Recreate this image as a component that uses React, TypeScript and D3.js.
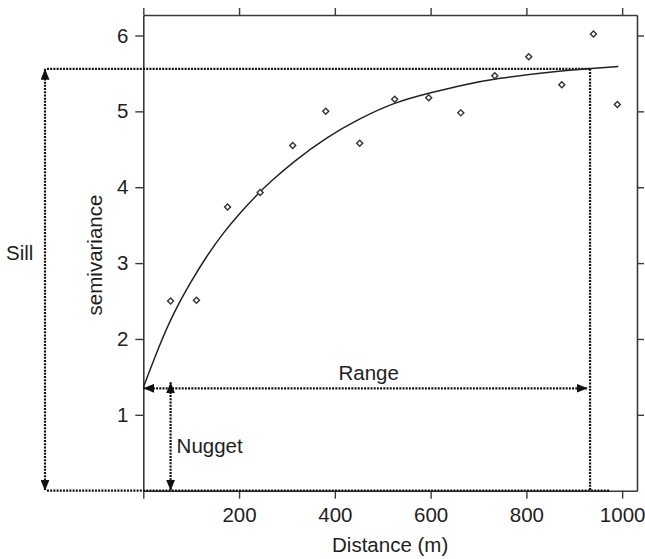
import React, { useEffect, useRef } from 'react';
import * as d3 from 'd3';

// experimental semivariogram (dots)
const lagDist = [57, 111, 176, 244, 312, 381, 452, 525, 596, 663, 734, 805, 874, 940, 990];
const semivar = [2.5, 2.51, 3.74, 3.93, 4.55, 5.0, 4.58, 5.16, 5.18, 4.98, 5.47, 5.72, 5.35, 6.02, 5.09];

// fitted model
const fitDist = [0, 35, 63, 98, 132, 167, 202, 237, 265, 312, 383, 453, 525, 596, 668, 734, 870, 992];
const fitGamma = [1.36, 1.94, 2.34, 2.74, 3.09, 3.4, 3.66, 3.9, 4.07, 4.33, 4.66, 4.91, 5.12, 5.24, 5.35, 5.43, 5.54, 5.59];

const xTicks = [0, 200, 400, 600, 800, 1000];
const yTicks = [1, 2, 3, 4, 5, 6];

const nugget = 1.35;
const sill = 5.56;
const range = 933;
const nuggetArrowAt = 57;

const W = 645;
const H = 559;
const FONT = '"Liberation Sans", Arial, sans-serif';

const App = () => {
  const ref = useRef<SVGSVGElement | null>(null);

  useEffect(() => {
    if (!ref.current) return;
    const svg = d3.select(ref.current);
    svg.selectAll('*').remove();

    const x = d3.scaleLinear().domain([0, 1031]).range([143.3, 637]);
    const y = d3.scaleLinear().domain([0, 6.27]).range([490.7, 15]);

    const axisCol = '#3a3a3a';
    const txtCol = '#1e1e1e';

    // arrowhead marker
    const defs = svg.append('defs');
    defs.append('marker')
      .attr('id', 'ah')
      .attr('viewBox', '0 0 11 9')
      .attr('refX', 11)
      .attr('refY', 4.5)
      .attr('markerWidth', 11)
      .attr('markerHeight', 9)
      .attr('markerUnits', 'userSpaceOnUse')
      .attr('orient', 'auto-start-reverse')
      .append('path')
      .attr('d', 'M0,0L11,4.5L0,9Z')
      .attr('fill', '#111');

    const styleAxis = (g: any, labels: boolean) => {
      g.select('.domain').attr('stroke', axisCol).attr('stroke-width', 1.6);
      g.selectAll('.tick line').attr('stroke', axisCol).attr('stroke-width', 1.4);
      g.selectAll('.tick text')
        .attr('fill', txtCol)
        .style('font-family', FONT)
        .style('font-size', '20.5px');
      if (!labels) g.selectAll('.tick text').remove();
    };

    // axes (box)
    svg.append('g')
      .attr('transform', `translate(0,${y(0)})`)
      .call(d3.axisBottom(x).tickValues(xTicks).tickSize(8).tickSizeOuter(0).tickPadding(9)
        .tickFormat((d: any) => (d === 0 ? '' : String(d))))
      .call((g: any) => styleAxis(g, true));
    svg.append('g')
      .attr('transform', `translate(0,${y(6.27)})`)
      .call(d3.axisTop(x).tickValues(xTicks).tickSize(7).tickSizeOuter(0).tickFormat(() => ''))
      .call((g: any) => styleAxis(g, false));
    svg.append('g')
      .attr('transform', `translate(${x(0)},0)`)
      .call(d3.axisLeft(y).tickValues(yTicks).tickSize(8).tickSizeOuter(0).tickPadding(7).tickFormat(d3.format('d')))
      .call((g: any) => styleAxis(g, true));
    svg.append('g')
      .attr('transform', `translate(${x(1031)},0)`)
      .call(d3.axisRight(y).tickValues(yTicks).tickSize(7).tickSizeOuter(0).tickFormat(() => ''))
      .call((g: any) => styleAxis(g, false));

    // dotted guides
    const dotted = (x1: number, y1: number, x2: number, y2: number, startArrow = false, endArrow = false) => {
      const l = svg.append('line')
        .attr('x1', x1).attr('y1', y1).attr('x2', x2).attr('y2', y2)
        .attr('stroke', '#111')
        .attr('stroke-width', 2.2)
        .attr('stroke-dasharray', '2,1.2');
      if (startArrow) l.attr('marker-start', 'url(#ah)');
      if (endArrow) l.attr('marker-end', 'url(#ah)');
    };

    const sillX = 45;
    // sill horizontal lines
    dotted(sillX + 2, y(sill), x(range), y(sill));
    dotted(sillX + 2, y(0), 610, y(0));
    // sill vertical arrow
    dotted(sillX, y(sill), sillX, y(0), true, true);
    // range vertical
    dotted(x(range), y(sill), x(range), y(0));
    // range arrow
    dotted(x(0), y(nugget), x(range) - 2.5, y(nugget), true, true);
    // nugget arrow
    dotted(x(nuggetArrowAt), y(nugget) - 6, x(nuggetArrowAt), y(0), true, true);

    // fitted curve
    const line = d3.line<number>()
      .x((_d, i) => x(fitDist[i]))
      .y((d) => y(d))
      .curve(d3.curveBasis);
    svg.append('path')
      .attr('d', line(fitGamma))
      .attr('fill', 'none')
      .attr('stroke', '#222')
      .attr('stroke-width', 1.5);

    // points
    const sym = d3.symbol().type(d3.symbolSquare).size(18);
    svg.append('g')
      .selectAll('path')
      .data(semivar)
      .enter()
      .append('path')
      .attr('d', sym as any)
      .attr('transform', (d, i) => `translate(${x(lagDist[i])},${y(d)}) rotate(45)`)
      .attr('fill', 'white')
      .attr('stroke', '#333')
      .attr('stroke-width', 1.4);

    // text labels
    const label = (t: string, tx: number, ty: number, anchor = 'start', rot = 0) => {
      svg.append('text')
        .attr('transform', `translate(${tx},${ty}) rotate(${rot})`)
        .attr('text-anchor', anchor)
        .attr('fill', txtCol)
        .style('font-family', FONT)
        .style('font-size', '20.5px')
        .text(t);
    };
    label('Distance (m)', (x(0) + x(1031)) / 2, 552, 'middle');
    label('semivariance', 102, 255, 'middle', -90);
    label('Sill', 6, 260);
    label('Range', x(range / 2) + 2, 380, 'middle');
    label('Nugget', x(nuggetArrowAt) + 6, 453);
  }, []);

  return (
    <svg
      ref={ref}
      width={W}
      height={H}
      style={{ position: 'absolute', left: 0, top: 0, background: 'white' }}
    />
  );
};

export default App;
